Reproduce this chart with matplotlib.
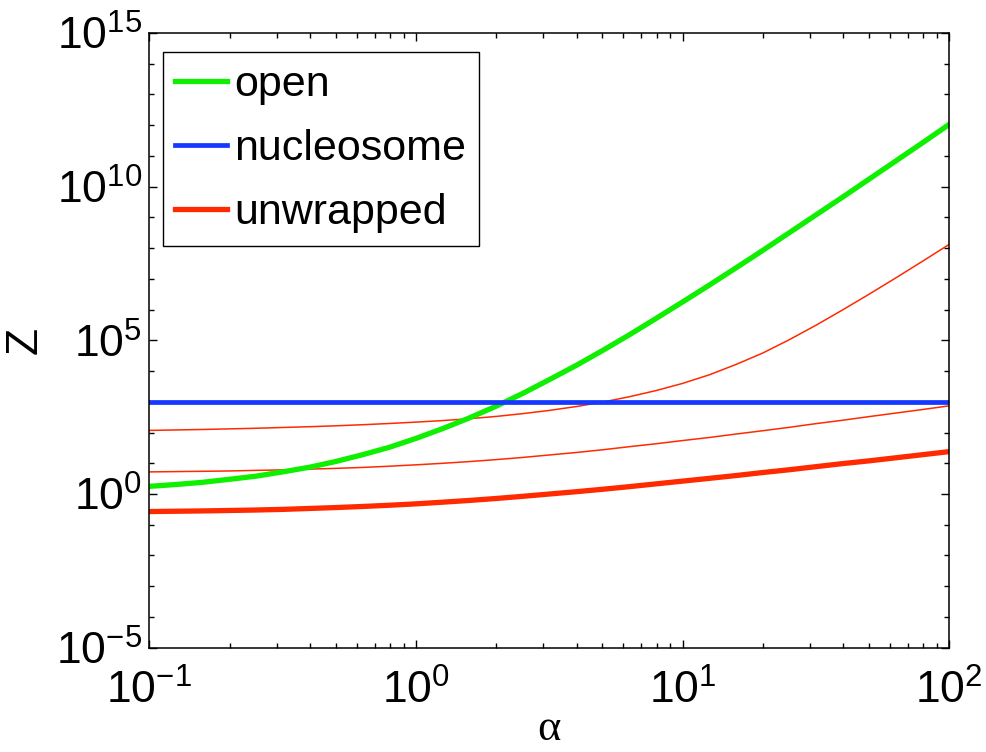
import numpy as np
from matplotlib import pyplot as plt
from matplotlib.ticker import LogLocator, NullFormatter

plt.rcParams['font.family'] = ['Liberation Sans', 'DejaVu Sans']
plt.rcParams['mathtext.fontset'] = 'custom'
plt.rcParams['mathtext.rm'] = 'Liberation Sans'
plt.rcParams['mathtext.it'] = 'Liberation Sans:italic'

alpha = [0.1, 0.126, 0.158, 0.2, 0.251, 0.316, 0.398, 0.501, 0.631, 0.794,
         1, 1.26, 1.58, 2, 2.51, 3.16, 3.98, 5.01, 6.31, 7.94,
         10, 12.6, 15.8, 20, 25.1, 31.6, 39.8, 50.1, 63.1, 79.4, 100]

# log10(Z) readings
open_log = [0.25, 0.31, 0.38, 0.48, 0.58, 0.72, 0.87, 1.06, 1.28, 1.52,
            1.81, 2.13, 2.47, 2.86, 3.27, 3.72, 4.18, 4.67, 5.18, 5.71,
            6.25, 6.80, 7.35, 7.93, 8.50, 9.08, 9.66, 10.25, 10.84, 11.43, 12.03]
nucleosome_log = [3.0] * len(alpha)
unwrapped_log = [-0.57, -0.56, -0.55, -0.535, -0.52, -0.50, -0.47, -0.44, -0.405, -0.365,
                 -0.32, -0.265, -0.21, -0.145, -0.075, 0.0, 0.075, 0.155, 0.24, 0.33,
                 0.42, 0.51, 0.60, 0.70, 0.79, 0.89, 0.99, 1.08, 1.18, 1.28, 1.38]
unwrapped_mid_log = [0.72, 0.73, 0.74, 0.75, 0.77, 0.785, 0.81, 0.835, 0.865, 0.905,
                     0.95, 1.0, 1.055, 1.12, 1.19, 1.27, 1.35, 1.44, 1.54, 1.635,
                     1.74, 1.84, 1.95, 2.06, 2.17, 2.29, 2.40, 2.52, 2.635, 2.75, 2.87]
unwrapped_top_log = [2.07, 2.085, 2.10, 2.12, 2.14, 2.165, 2.19, 2.22, 2.255, 2.295,
                     2.34, 2.39, 2.45, 2.525, 2.615, 2.72, 2.845, 2.99, 3.165, 3.365,
                     3.60, 3.88, 4.21, 4.59, 5.02, 5.49, 5.99, 6.505, 7.035, 7.575, 8.125]

GREEN = '#0ef000'
BLUE = '#1438ff'
RED = '#ff2a00'

fig = plt.figure(figsize=(9.87, 7.52), dpi=100)
ax = fig.add_axes([0.1513, 0.1387, 0.8105, 0.8174])

to_z = lambda v: 10.0 ** np.array(v)
ax.plot(alpha, to_z(unwrapped_top_log), color=RED, lw=1.1)
ax.plot(alpha, to_z(unwrapped_mid_log), color=RED, lw=1.1)
ax.plot(alpha, to_z(open_log), color=GREEN, lw=3.8, label='open')
ax.plot(alpha, to_z(nucleosome_log), color=BLUE, lw=3.4, label='nucleosome')
ax.plot(alpha, to_z(unwrapped_log), color=RED, lw=3.8, label='unwrapped')

ax.set_xscale('log')
ax.set_yscale('log')
ax.set_xlim(0.1, 100)
ax.set_ylim(1e-5, 1e15)
ax.set_yticks([1e-5, 1e0, 1e5, 1e10, 1e15])
ax.yaxis.set_minor_locator(LogLocator(base=10, subs=[], numticks=30))
ax.yaxis.set_minor_formatter(NullFormatter())
ax.xaxis.set_minor_locator(LogLocator(base=10, subs=np.arange(2, 10), numticks=30))
ax.xaxis.set_minor_formatter(NullFormatter())

ax.tick_params(which='both', direction='in', top=True, right=True, labelsize=32, width=1)
ax.tick_params(which='major', length=6)
ax.tick_params(which='minor', length=3.5)
ax.tick_params(axis='x', pad=16)
ax.tick_params(axis='y', pad=5)
for s in ax.spines.values():
    s.set_linewidth(1.1)

ax.set_xlabel('α', fontsize=32, family='Liberation Serif', labelpad=-3)
ax.set_ylabel('Z', fontsize=32, labelpad=8)

leg = ax.legend(loc='upper left', bbox_to_anchor=(0.0165, 0.969), fontsize=31,
                frameon=True, fancybox=False, framealpha=1, edgecolor='black',
                handlelength=1.2, handletextpad=0.16, labelspacing=0.56,
                borderpad=0.3, borderaxespad=0)
leg.get_frame().set_linewidth(1.0)

fig.savefig('out.png', dpi=100)
